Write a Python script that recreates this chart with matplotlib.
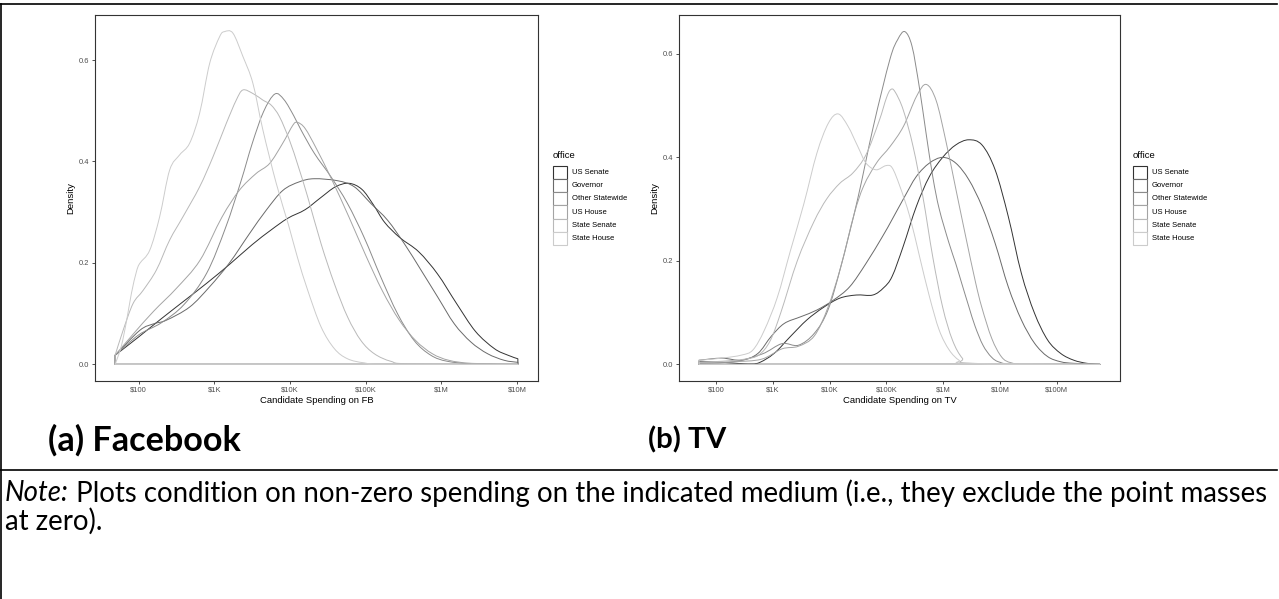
import numpy as np
import matplotlib
matplotlib.use('Agg')
import matplotlib.pyplot as plt
from matplotlib.patches import Rectangle, PathPatch
from matplotlib.path import Path
from matplotlib.lines import Line2D

plt.rcParams['font.family'] = ['Liberation Sans', 'DejaVu Sans']

W, H = 1279, 599

offices = ['US Senate', 'Governor', 'Other Statewide', 'US House', 'State Senate', 'State House']
# scale_colour_grey(start=0.2, end=0.8)
office_colors = ['#333333', '#6A6A6A', '#8B8B8B', '#A4A4A4', '#B9B9B9', '#CCCCCC']

# ---- Facebook: log10(spending) vs density ----
fb_senate_x = [1.69, 2.0, 2.3, 2.6, 2.9, 3.2, 3.5, 3.75, 3.97, 4.2, 4.4, 4.6, 4.78, 4.95, 5.1, 5.25, 5.45, 5.7, 5.95, 6.2, 6.45, 6.7, 6.88, 7.01]
fb_senate_d = [0.018, 0.054, 0.09, 0.125, 0.16, 0.197, 0.236, 0.265, 0.288, 0.305, 0.328, 0.35, 0.357, 0.345, 0.315, 0.28, 0.25, 0.222, 0.178, 0.12, 0.065, 0.031, 0.018, 0.011]

fb_gov_x = [1.69, 2.015, 2.2, 2.366, 2.674, 2.938, 3.2, 3.466, 3.686, 3.906, 4.125, 4.32, 4.63, 4.85, 5.07, 5.29, 5.51, 5.73, 5.95, 6.17, 6.39, 6.61, 6.83, 7.01]
fb_gov_d = [0.018, 0.067, 0.08, 0.087, 0.113, 0.153, 0.2, 0.258, 0.304, 0.343, 0.36, 0.366, 0.362, 0.35, 0.317, 0.284, 0.238, 0.186, 0.133, 0.08, 0.044, 0.021, 0.008, 0.004]

fb_other_x = [1.69, 2.0, 2.3, 2.6, 2.9, 3.15, 3.35, 3.5, 3.65, 3.8, 3.92, 4.05, 4.146, 4.322, 4.54, 4.76, 4.98, 5.2, 5.42, 5.64, 5.86, 6.08, 6.43, 7.01]
fb_other_d = [0.018, 0.058, 0.082, 0.118, 0.18, 0.27, 0.36, 0.435, 0.498, 0.533, 0.522, 0.49, 0.462, 0.416, 0.37, 0.317, 0.25, 0.172, 0.1, 0.047, 0.018, 0.006, 0.001, 0.0]

fb_house_x = [1.69, 1.93, 2.2, 2.5, 2.81, 3.1, 3.33, 3.55, 3.73, 3.9, 4.04, 4.1, 4.2, 4.35, 4.55, 4.78, 5.0, 5.22, 5.44, 5.66, 5.88, 6.1, 6.4, 7.01]
fb_house_d = [0.018, 0.06, 0.105, 0.15, 0.205, 0.29, 0.343, 0.376, 0.396, 0.435, 0.472, 0.477, 0.465, 0.425, 0.365, 0.29, 0.215, 0.145, 0.088, 0.047, 0.021, 0.008, 0.002, 0.0]

fb_ssen_x = [1.69, 1.795, 1.927, 2.06, 2.235, 2.41, 2.586, 2.806, 2.982, 3.158, 3.29, 3.378, 3.51, 3.642, 3.752, 3.862, 3.993, 4.11, 4.234, 4.41, 4.586, 4.762, 4.937, 5.113, 5.333, 5.597, 7.01]
fb_ssen_d = [0.018, 0.067, 0.12, 0.146, 0.186, 0.245, 0.291, 0.35, 0.409, 0.475, 0.521, 0.541, 0.534, 0.521, 0.511, 0.488, 0.442, 0.39, 0.33, 0.238, 0.159, 0.093, 0.047, 0.021, 0.006, 0.001, 0.0]

fb_shouse_x = [1.69, 1.77, 1.84, 1.905, 1.97, 2.015, 2.147, 2.278, 2.41, 2.542, 2.674, 2.806, 2.938, 3.07, 3.136, 3.246, 3.378, 3.51, 3.642, 3.818, 3.98, 4.1, 4.234, 4.41, 4.586, 4.76, 4.98, 5.29, 7.01]
fb_shouse_d = [0.0, 0.035, 0.085, 0.14, 0.182, 0.199, 0.225, 0.291, 0.383, 0.413, 0.436, 0.495, 0.593, 0.646, 0.656, 0.653, 0.607, 0.554, 0.462, 0.357, 0.275, 0.21, 0.146, 0.074, 0.031, 0.011, 0.003, 0.0, 0.0]

# ---- TV ----
tv_senate_x = [1.70, 2.1, 2.5, 2.73, 3.02, 3.31, 3.6, 3.89, 4.18, 4.47, 4.76, 4.95, 5.1, 5.295, 5.526, 5.757, 5.99, 6.22, 6.45, 6.683, 6.914, 7.145, 7.376, 7.607, 7.839, 8.07, 8.3, 8.53, 8.76]
tv_senate_d = [0.005, 0.004, 0.001, 0.002, 0.021, 0.054, 0.086, 0.11, 0.128, 0.134, 0.134, 0.148, 0.17, 0.228, 0.305, 0.363, 0.4, 0.424, 0.434, 0.424, 0.376, 0.286, 0.176, 0.099, 0.047, 0.021, 0.008, 0.002, 0.0]

tv_gov_x = [1.70, 2.1, 2.45, 2.735, 2.97, 3.2, 3.49, 3.775, 4.064, 4.353, 4.64, 4.93, 5.1, 5.3, 5.526, 5.757, 5.99, 6.22, 6.45, 6.683, 6.914, 7.145, 7.376, 7.607, 7.839, 8.07, 8.3, 8.76]
tv_gov_d = [0.008, 0.012, 0.008, 0.021, 0.054, 0.079, 0.092, 0.105, 0.124, 0.15, 0.195, 0.247, 0.28, 0.32, 0.363, 0.389, 0.4, 0.389, 0.357, 0.305, 0.234, 0.15, 0.086, 0.041, 0.015, 0.005, 0.002, 0.0]

tv_other_x = [1.70, 2.3, 2.81, 3.16, 3.45, 3.73, 3.97, 4.2, 4.49, 4.77, 5.06, 5.2, 5.324, 5.45, 5.58, 5.7, 5.82, 5.93, 6.1, 6.22, 6.33, 6.45, 6.56, 6.7, 6.85, 7.0, 7.3, 8.76]
tv_other_d = [0.002, 0.005, 0.02, 0.04, 0.037, 0.06, 0.105, 0.19, 0.318, 0.46, 0.589, 0.628, 0.643, 0.615, 0.535, 0.445, 0.36, 0.3, 0.235, 0.195, 0.155, 0.112, 0.074, 0.037, 0.014, 0.004, 0.0, 0.0]

tv_house_x = [1.70, 2.3, 2.8, 3.16, 3.45, 3.73, 3.97, 4.2, 4.43, 4.6, 4.83, 5.064, 5.3, 5.53, 5.7, 5.875, 6.05, 6.22, 6.39, 6.566, 6.68, 6.855, 7.03, 7.2, 7.5, 8.76]
tv_house_d = [0.003, 0.005, 0.01, 0.03, 0.035, 0.055, 0.11, 0.19, 0.29, 0.345, 0.39, 0.421, 0.46, 0.518, 0.541, 0.51, 0.43, 0.34, 0.25, 0.16, 0.11, 0.05, 0.014, 0.003, 0.0, 0.0]

tv_ssen_x = [1.70, 2.1, 2.5, 2.75, 2.95, 3.14, 3.43, 3.72, 3.95, 4.18, 4.41, 4.64, 4.87, 5.0, 5.075, 5.15, 5.295, 5.469, 5.642, 5.815, 5.989, 6.162, 6.336, 6.51, 8.76]
tv_ssen_d = [0.004, 0.006, 0.01, 0.018, 0.045, 0.1, 0.2, 0.275, 0.32, 0.35, 0.37, 0.405, 0.47, 0.515, 0.531, 0.527, 0.492, 0.421, 0.324, 0.208, 0.111, 0.047, 0.012, 0.002, 0.0]

tv_shouse_x = [1.70, 2.1, 2.45, 2.65, 2.85, 3.08, 3.31, 3.545, 3.775, 3.977, 4.15, 4.324, 4.5, 4.64, 4.815, 4.99, 5.1, 5.237, 5.41, 5.584, 5.757, 5.93, 6.104, 6.278, 6.45, 8.76]
tv_shouse_d = [0.008, 0.012, 0.018, 0.028, 0.066, 0.13, 0.22, 0.31, 0.408, 0.466, 0.484, 0.46, 0.42, 0.389, 0.376, 0.384, 0.38, 0.344, 0.286, 0.208, 0.131, 0.066, 0.028, 0.008, 0.002, 0.0]

fb_series = [(fb_senate_x, fb_senate_d), (fb_gov_x, fb_gov_d), (fb_other_x, fb_other_d),
             (fb_house_x, fb_house_d), (fb_ssen_x, fb_ssen_d), (fb_shouse_x, fb_shouse_d)]
tv_series = [(tv_senate_x, tv_senate_d), (tv_gov_x, tv_gov_d), (tv_other_x, tv_other_d),
             (tv_house_x, tv_house_d), (tv_ssen_x, tv_ssen_d), (tv_shouse_x, tv_shouse_d)]

fb_ticks = [2, 3, 4, 5, 6, 7]
fb_ticklabels = ['$100', '$1K', '$10K', '$100K', '$1M', '$10M']
tv_ticks = [2, 3, 4, 5, 6, 7, 8]
tv_ticklabels = ['$100', '$1K', '$10K', '$100K', '$1M', '$10M', '$100M']
y_ticks = [0.0, 0.2, 0.4, 0.6]


def px(x, y):
    return x / W, 1 - y / H


def outline_path(xs, ds):
    """closed outline through the read points, drawn as a smooth
    (Catmull-Rom style) bezier curve, plus the base line at zero"""
    p = np.column_stack([xs, ds]).astype(float)
    verts = [(xs[0], 0.0), tuple(p[0])]
    codes = [Path.MOVETO, Path.LINETO]
    n = len(p)
    for i in range(n - 1):
        p0 = p[max(i - 1, 0)]
        p1, p2 = p[i], p[i + 1]
        p3 = p[min(i + 2, n - 1)]
        c1 = p1 + (p2 - p0) / 6.0
        c2 = p2 - (p3 - p1) / 6.0
        c1[1] = max(c1[1], 0.0)
        c2[1] = max(c2[1], 0.0)
        verts += [tuple(c1), tuple(c2), tuple(p2)]
        codes += [Path.CURVE4] * 3
    verts += [(xs[-1], 0.0), (xs[0], 0.0)]
    codes += [Path.LINETO, Path.CLOSEPOLY]
    return Path(verts, codes)


def density_panel(ax, series, ticks, ticklabels, xlabel):
    for (xs, ds), c in zip(series, office_colors):
        ax.add_patch(PathPatch(outline_path(xs, ds), fill=False, edgecolor=c,
                               lw=0.7, joinstyle='round'))
    x0 = min(s[0][0] for s in series)
    x1 = max(s[0][-1] for s in series)
    ymax = max(max(s[1]) for s in series)
    ax.set_xlim(x0 - 0.05 * (x1 - x0), x1 + 0.05 * (x1 - x0))
    ax.set_ylim(-0.05 * ymax, ymax * 1.05)
    ax.set_xticks(ticks)
    ax.set_xticklabels(ticklabels)
    ax.set_yticks(y_ticks)
    ax.set_yticklabels(['%.1f' % v for v in y_ticks])
    ax.tick_params(length=2.5, width=0.6, color='#333333', labelsize=5.4,
                   labelcolor='#4D4D4D', pad=1.5)
    for sp in ax.spines.values():
        sp.set_color('#333333')
        sp.set_linewidth(0.8)
    ax.set_xlabel(xlabel, fontsize=6.8, labelpad=1.5)
    ax.set_ylabel('Density', fontsize=6.8, labelpad=3)


def legend(fig, x, y_title, key_top, key_w, label_x):
    fig.text(*px(x, y_title), 'office', fontsize=6.8, va='center', ha='left')
    row = 13.3
    for i, (name, c) in enumerate(zip(offices, office_colors)):
        top = key_top + i * row
        fig.add_artist(Rectangle(px(x, top + row), key_w / W, row / H,
                                 transform=fig.transFigure, facecolor='white',
                                 edgecolor=c, lw=0.8))
        fig.text(*px(label_x, top + row / 2), name, fontsize=5.5, va='center', ha='left')


fig = plt.figure(figsize=(W / 100, H / 100), dpi=100)

ax_fb = fig.add_axes([95 / W, 1 - 381 / H, 443 / W, 366 / H])
density_panel(ax_fb, fb_series, fb_ticks, fb_ticklabels, 'Candidate Spending on FB')
ax_tv = fig.add_axes([679 / W, 1 - 381 / H, 441 / W, 366 / H])
density_panel(ax_tv, tv_series, tv_ticks, tv_ticklabels, 'Candidate Spending on TV')

legend(fig, 553, 155, 165.5, 13.5, 572)
legend(fig, 1133, 155, 165.5, 13.5, 1152)

# frame rules of the figure environment
for (xa, ya), (xb, yb) in [((0, 4), (1277, 4)), ((1, 4), (1, 599)), ((0, 470), (1277, 470))]:
    fig.add_artist(Line2D([xa / W, xb / W], [1 - ya / H, 1 - yb / H],
                          transform=fig.transFigure, color='black', lw=1.2))

renderer = fig.canvas.get_renderer()


def fitted(x, y, s, target_w, **kw):
    t = fig.text(*px(x, y), s, va='center', ha='left', **kw)
    w = t.get_window_extent(renderer).width
    t.set_fontsize(t.get_fontsize() * target_w / w)
    return t


cap_font = ['Lato', 'DejaVu Sans']
fitted(48, 440, '(a) Facebook', 192, fontsize=18, fontweight='bold', family=cap_font)
fitted(648, 440, '(b) TV', 78, fontsize=18, fontweight='bold', family=cap_font)

# note, italic lead-in then the rest on the same baseline
note_rest = ' Plots condition on non-zero spending on the indicated medium (i.e., they exclude the point masses'
t1 = fig.text(*px(5, 493), 'Note:', fontsize=16, style='italic', family=cap_font, va='center')
t2 = fig.text(*px(5, 493), note_rest, fontsize=16, family=cap_font, va='center')
w1 = t1.get_window_extent(renderer).width
w2 = t2.get_window_extent(renderer).width
scale = 1268 / (w1 + w2)
t1.set_fontsize(16 * scale)
t2.set_fontsize(16 * scale)
t2.set_position(px(5 + w1 * scale, 493))
fig.text(*px(5, 521), 'at zero).', fontsize=16 * scale, family=cap_font, va='center')

fig.savefig('out.png', dpi=100)
